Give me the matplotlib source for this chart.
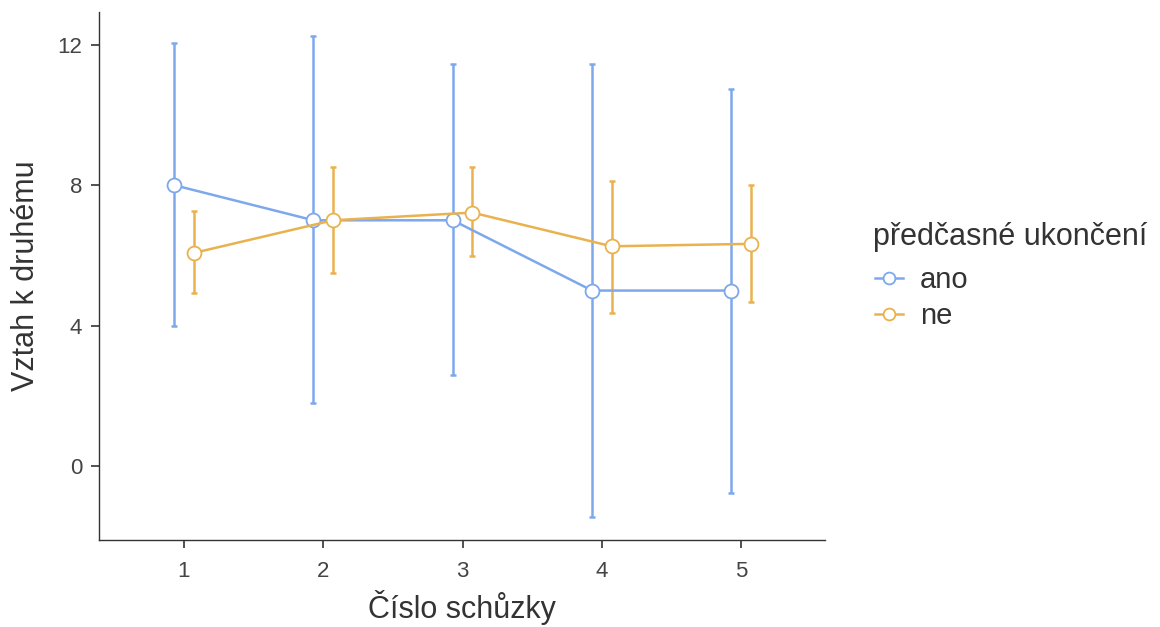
import matplotlib
matplotlib.use("Agg")
import matplotlib.pyplot as plt
import numpy as np

plt.rcParams['font.family'] = ['Liberation Sans', 'DejaVu Sans']

sessions = [1, 2, 3, 4, 5]
groups = ["ano", "ne"]
ano_mean = [8.0, 7.0, 7.0, 5.0, 5.0]
ano_low = [4.0, 1.8, 2.6, -1.45, -0.75]
ano_high = [12.05, 12.25, 11.45, 11.45, 10.75]
ne_mean = [6.07, 7.0, 7.22, 6.26, 6.33]
ne_low = [4.93, 5.5, 5.98, 4.36, 4.67]
ne_high = [7.26, 8.52, 8.52, 8.12, 8.0]

colors = {"ano": "#7EA8EC", "ne": "#E9B24F"}

fig = plt.figure(figsize=(11.6, 6.27), dpi=100)
ax = fig.add_axes([0.0853, 0.1388, 0.6257, 0.8421])

dodge = 0.07
data = {"ano": (ano_mean, ano_low, ano_high, -dodge),
        "ne": (ne_mean, ne_low, ne_high, dodge)}
for g in groups:
    m, lo, hi, off = data[g]
    x = np.array(sessions) + off
    m = np.array(m); lo = np.array(lo); hi = np.array(hi)
    c = colors[g]
    ax.errorbar(x, m, yerr=[m - lo, hi - m], fmt='none', ecolor=c,
                elinewidth=1.8, capsize=2.5, capthick=1.8, zorder=2)
    ax.plot(x, m, '-o', color=c, lw=1.8, markersize=10,
            markerfacecolor='white', markeredgecolor=c, markeredgewidth=1.3,
            label=g, zorder=3)

ax.set_xlim(0.39, 5.6)
ax.set_ylim(-2.1, 12.93)
ax.set_xticks(sessions)
ax.set_yticks([0, 4, 8, 12])
for s in ['top', 'right']:
    ax.spines[s].set_visible(False)
for s in ['left', 'bottom']:
    ax.spines[s].set_color('#333333')
    ax.spines[s].set_linewidth(1.0)
ax.tick_params(axis='both', colors='#333333', labelcolor='#444444',
               labelsize=16, length=6, width=1.2)
ax.tick_params(axis='x', pad=9)
ax.tick_params(axis='y', pad=6)
ax.set_xlabel("Číslo schůzky", fontsize=22, color='#333333', labelpad=6)
ax.set_ylabel("Vztah k druhému", fontsize=22, color='#333333', labelpad=12)

fig.text(873 / 1160, 1 - 237 / 627, "předčasné ukončení", fontsize=22,
         color='#333333', ha='left', va='center')
leg = fig.legend(*ax.get_legend_handles_labels(), loc='center left',
                 bbox_to_anchor=(875 / 1160, 1 - 298 / 627), frameon=False,
                 fontsize=21, handlelength=0.95,
                 handletextpad=0.6, labelspacing=0.27, markerscale=0.85,
                 borderaxespad=0, borderpad=0)
for t in leg.get_texts():
    t.set_color('#333333')

fig.savefig("out.png", dpi=100)
